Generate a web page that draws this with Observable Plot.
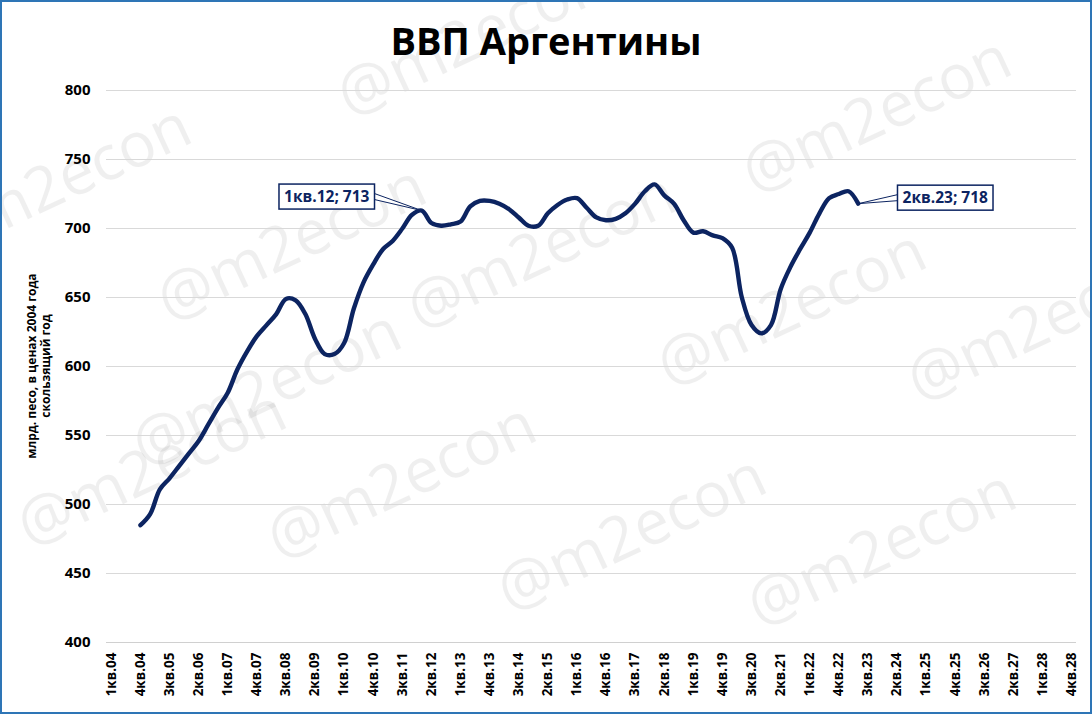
<!DOCTYPE html>
<html><head><meta charset="utf-8">
<script src="https://cdn.jsdelivr.net/npm/d3@7"></script>
<script src="https://cdn.jsdelivr.net/npm/@observablehq/plot@0.6"></script>
<style>
body{margin:0;background:#fff;}
#wrap{position:relative;width:1092px;height:714px;overflow:hidden;background:#fff;font-family:"Open Sans",sans-serif;}
#border{position:absolute;left:0;top:0;width:1092px;height:714px;box-sizing:border-box;border:2px solid #2e75b6;pointer-events:none;z-index:6}
#title{position:absolute;left:0;top:14px;width:1092px;text-align:center;font-size:38px;font-weight:700;color:#000;z-index:3;line-height:52px}
#wm{position:absolute;left:0;top:0;width:1092px;height:714px;z-index:1}
#wm span{position:absolute;font-size:62px;color:#000;opacity:0.06;transform:translate(-50%,-50%) rotate(-25deg);white-space:nowrap;font-family:"Open Sans",sans-serif}
#chart{position:absolute;left:0;top:80px;z-index:2}
#ylab{position:absolute;left:-111px;top:352px;width:300px;height:28px;line-height:14px;text-align:center;font-size:12px;font-weight:700;color:#000;transform:rotate(-90deg);z-index:3}
</style>
</head><body>
<div id="wrap">
  <div id="wm"></div>
  <div id="title">ВВП Аргентины</div>
  <div id="ylab">млрд. песо, в ценах 2004 года<br>скользящий год</div>
  <div id="chart"></div>
  <div id="border"></div>
</div>
<script>
// categories: quarters 1кв.04 .. 4кв.28
const years = ["04","05","06","07","08","09","10","11","12","13","14","15","16","17","18","19","20","21","22","23","24","25","26","27","28"];
const quarterNames = ["1кв.","2кв.","3кв.","4кв."];
const allQuarters = [];
for (const y of years) for (const q of quarterNames) allQuarters.push(q + y);

// tick labels shown on the axis
const tickLabels = ["1кв.04","4кв.04","3кв.05","2кв.06","1кв.07","4кв.07","3кв.08","2кв.09","1кв.10","4кв.10","3кв.11","2кв.12","1кв.13","4кв.13","3кв.14","2кв.15","1кв.16","4кв.16","3кв.17","2кв.18","1кв.19","4кв.19","3кв.20","2кв.21","1кв.22","4кв.22","3кв.23","2кв.24","1кв.25","4кв.25","3кв.26","2кв.27","1кв.28","4кв.28"];

// series: GDP, bn pesos at 2004 prices, rolling year (4кв.04 .. 2кв.23)
const firstQuarter = "4кв.04";
const gdp = [485,493,511,519,528,537,546,558,570,581,598,611,622,630,638,649,648,638,620,609,609,617,642,661,674,685,691,700,710,713,704,702,703,705,716,720,720,718,714,708,702,702,711,717,721,722,715,708,706,707,711,718,727,732,724,718,706,697,698,695,693,686,650,630,624,630,656,672,685,697,711,722,725,727,718];

const yTicks = [400,450,500,550,600,650,700,750,800];

// callouts
const calloutQuarters = ["1кв.12","2кв.23"];
const calloutValues = [713,718];

const start = allQuarters.indexOf(firstQuarter);
const data = gdp.map((v,i)=>({q: allQuarters[start+i], v}));
const callouts = calloutQuarters.map((q,i)=>({q, v: calloutValues[i]}));

const navy = "#0c2461";
const plot = Plot.plot({
  width: 1092,
  height: 634,
  marginLeft: 106,
  marginRight: 16,
  marginTop: 10,
  marginBottom: 72,
  style: {fontFamily: "'Open Sans', sans-serif", background: "transparent", overflow: "visible"},
  x: {type: "point", domain: allQuarters, padding: 0.5},
  y: {domain: [400, 800]},
  marks: [
    Plot.ruleY(yTicks.filter(d=>d>400), {stroke: "#d9d9d9", strokeWidth: 1}),
    Plot.ruleY([400], {stroke: "#d0d0d0", strokeWidth: 1}),
    Plot.axisY({ticks: yTicks, tickSize: 0, tickPadding: 16, fontSize: 15, fontWeight: 700, fill: "#000", label: null}),
    Plot.axisX({ticks: tickLabels, tickSize: 0, tickPadding: 10, tickRotate: -90, fontSize: 13.5, fontWeight: 700, fill: "#000", label: null}),
    Plot.line(data, {x: "q", y: "v", stroke: navy, strokeWidth: 4.4, curve: "catmull-rom"}),
    Plot.text(callouts, {x: "q", y: "v", text: d => `${d.q}; ${d.v}`, fill: navy, fontSize: 15.5, fontWeight: 700, textAnchor: "middle"})
  ]
});
document.getElementById("chart").appendChild(plot);

// position callout boxes (pixel offsets from their data points, like spreadsheet data labels)
const offsets = [[-95,-14],[87,-6]];
const xs = plot.scale("x"), ys = plot.scale("y");
const svgNS = "http://www.w3.org/2000/svg";
const texts = plot.querySelectorAll('g[aria-label="text"] text');
texts.forEach((t, i) => {
  const px = xs.apply(callouts[i].q), py = ys.apply(callouts[i].v);
  const [ox, oy] = offsets[i];
  t.removeAttribute("x"); t.removeAttribute("y");
  t.setAttribute("transform", `translate(${px+ox},${py+oy})`);
  t.setAttribute("dy", "0.35em");
  const bb = t.getBBox();
  const bw = bb.width + 10, bh = 25;
  const bx = px + ox - bw/2, by = py + oy - bh/2;
  const g = t.parentNode;
  const rect = document.createElementNS(svgNS, "rect");
  rect.setAttribute("x", bx); rect.setAttribute("y", by);
  rect.setAttribute("width", bw); rect.setAttribute("height", bh);
  rect.setAttribute("fill", "#fff"); rect.setAttribute("stroke", navy); rect.setAttribute("stroke-width", 1.5);
  const ex = ox < 0 ? bx + bw : bx;
  const wedge = document.createElementNS(svgNS, "path");
  wedge.setAttribute("d", `M${px},${py}L${ex},${py+oy-3}L${ex},${py+oy+3}Z`);
  wedge.setAttribute("fill", "#fff"); wedge.setAttribute("stroke", navy); wedge.setAttribute("stroke-width", 1);
  g.insertBefore(wedge, g.firstChild);
  g.insertBefore(rect, t);
});

// watermark
const wmText = "@m2econ";
const wmCenters = [[55,180],[290,240],[470,35],[540,248],[875,112],[790,305],[1040,320],[150,465],[265,385],[400,478],[630,530],[880,545]];
const wm = document.getElementById("wm");
wmCenters.forEach(([x,y]) => { const s = document.createElement("span"); s.textContent = wmText; s.style.left = x+"px"; s.style.top = y+"px"; wm.appendChild(s); });
</script>
</body></html>
